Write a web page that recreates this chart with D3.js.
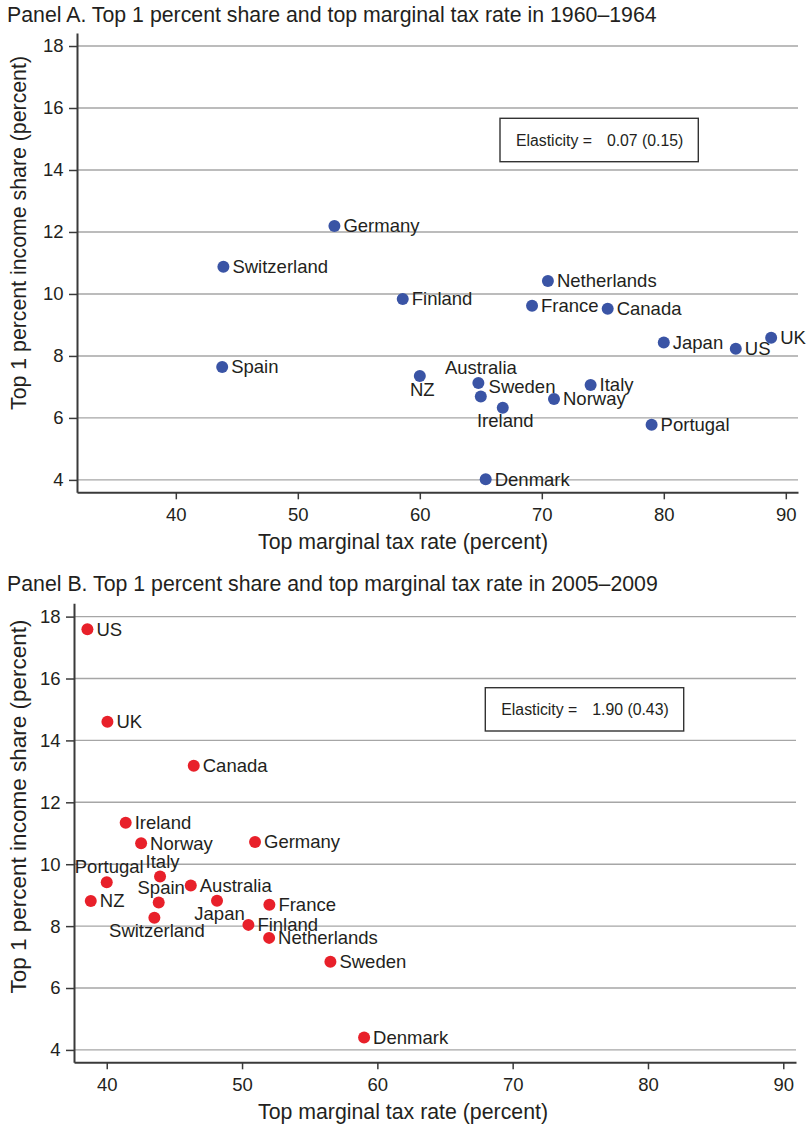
<!DOCTYPE html>
<html><head><meta charset="utf-8">
<script src="https://cdn.jsdelivr.net/npm/d3@7"></script>
<style>
body{margin:0;background:#fff}
svg{display:block}
text{font-family:"Liberation Sans",Arial,Helvetica,sans-serif;fill:#231f20}
</style>
</head><body><svg id="chart" width="807" height="1126"></svg>
<script>
// ---------------- data ----------------
const countriesA = ["Germany","Switzerland","Finland","Netherlands","France","Canada","Spain","Japan","US","UK","NZ","Australia","Sweden","Ireland","Italy","Norway","Portugal","Denmark"];
const taxRateA   = [53.0, 43.9, 58.6, 70.5, 69.2, 75.4, 43.8, 80.0, 85.9, 88.8, 60.0, 64.8, 65.0, 66.8, 74.0, 71.0, 79.0, 65.4];
const topShareA  = [12.19, 10.88, 9.84, 10.42, 9.62, 9.52, 7.64, 8.43, 8.23, 8.59, 7.35, 7.13, 6.69, 6.33, 7.06, 6.61, 5.78, 4.02];

const countriesB = ["US","UK","Canada","Ireland","Norway","Germany","Portugal","Italy","Australia","NZ","Spain","Japan","France","Switzerland","Finland","Netherlands","Sweden","Denmark"];
const taxRateB   = [38.57, 40.05, 46.43, 41.4, 42.54, 50.96, 40.0, 43.94, 46.21, 38.82, 43.84, 48.15, 52.02, 43.52, 50.47, 52.0, 56.53, 59.02];
const topShareB  = [17.59, 14.6, 13.18, 11.34, 10.68, 10.72, 9.42, 9.6, 9.31, 8.81, 8.76, 8.82, 8.69, 8.27, 8.04, 7.62, 6.85, 4.40];

const yTickValues = [4, 6, 8, 10, 12, 14, 16, 18];
const xTickValues = [40, 50, 60, 70, 80, 90];
const panelTitles = ["Panel A. Top 1 percent share and top marginal tax rate in 1960\u20131964",
                     "Panel B. Top 1 percent share and top marginal tax rate in 2005\u20132009"];
const elasticityValues = ["0.07 (0.15)", "1.90 (0.43)"];
const elasticityPrefix = "Elasticity =";
const xAxisTitle = "Top marginal tax rate (percent)";
const yAxisTitle = "Top 1 percent income share (percent)";

// ---------------- layout ----------------
const panels = [
  { names: countriesA, xs: taxRateA, ys: topShareA,
    left: 77, right: 798, top: 33, bottom: 492.3,
    xDom: [31.9, 91.0], yDom: [3.6, 18.42],
    titleY: 21.5, box: {x: 500, y: 118.3, w: 198.3, h: 43.4},
    yTitleC: 233, yTitleSize: 21.3,
    color: "#3a54a5",
    pos: {NZ: "6", Australia: "12", Sweden: "2", Ireland: "6"} },
  { names: countriesB, xs: taxRateB, ys: topShareB,
    left: 74, right: 796, top: 603.3, bottom: 1062.3,
    xDom: [37.58, 90.94], yDom: [3.6, 18.43],
    titleY: 590.7, box: {x: 485.3, y: 687.7, w: 198.4, h: 43.3},
    yTitleC: 806.5, yTitleSize: 22.5,
    color: "#e8202a",
    pos: {Portugal: "12", Italy: "12", Spain: "12", Switzerland: "6", Japan: "6"} }
];

const svg = d3.select("#chart");

panels.forEach((p, i) => {
  const g = svg.append("g");
  const x = d3.scaleLinear().domain(p.xDom).range([p.left, p.right]);
  const y = d3.scaleLinear().domain(p.yDom).range([p.bottom, p.top]);

  // title
  g.append("text").attr("x", 7).attr("y", p.titleY)
    .style("font-size", "21.3px").text(panelTitles[i]);

  // gridlines
  g.selectAll("line.grid").data(yTickValues).enter().append("line")
    .attr("class", "grid")
    .attr("x1", p.left).attr("x2", p.right)
    .attr("y1", d => y(d)).attr("y2", d => y(d))
    .attr("stroke", "#a6a6a6").attr("stroke-width", 1.4);

  // y axis
  const ya = g.append("g").attr("transform", `translate(${p.left},0)`)
    .call(d3.axisLeft(y).tickValues(yTickValues).tickSize(8).tickSizeOuter(0).tickPadding(5.5));
  // x axis
  const xa = g.append("g").attr("transform", `translate(0,${p.bottom})`)
    .call(d3.axisBottom(x).tickValues(xTickValues).tickSize(7).tickSizeOuter(0).tickPadding(8.2));
  [ya, xa].forEach(a => {
    a.select(".domain").attr("stroke", "#3a3a3a").attr("stroke-width", 2);
    a.selectAll(".tick line").attr("stroke", "#3a3a3a").attr("stroke-width", 1.5);
    a.selectAll(".tick text").style("font-size", "18.5px").style("font-family", "'Liberation Sans',Arial,sans-serif").attr("fill", "#231f20");
  });

  // axis titles
  g.append("text").attr("x", 403).attr("y", p.bottom + 57)
    .attr("text-anchor", "middle").style("font-size", "21.3px").text(xAxisTitle);
  g.append("text")
    .attr("transform", `translate(26,${p.yTitleC}) rotate(-90)`)
    .attr("text-anchor", "middle").style("font-size", p.yTitleSize + "px").text(yAxisTitle);

  // elasticity box
  g.append("rect").attr("x", p.box.x).attr("y", p.box.y).attr("width", p.box.w).attr("height", p.box.h)
    .attr("fill", "#fff").attr("stroke", "#333").attr("stroke-width", 1.4);
  const ty = p.box.y + p.box.h / 2 + 5.6;
  g.append("text").attr("x", p.box.x + 16).attr("y", ty).style("font-size", "15.8px").text(elasticityPrefix);
  g.append("text").attr("x", p.box.x + p.box.w - 15).attr("y", ty).attr("text-anchor", "end")
    .style("font-size", "15.8px").text(elasticityValues[i]);

  // points
  const data = p.names.map((n, k) => ({name: n, tx: p.xs[k], sh: p.ys[k]}));
  g.selectAll("circle.pt").data(data).enter().append("circle")
    .attr("class", "pt")
    .attr("cx", d => x(d.tx)).attr("cy", d => y(d.sh)).attr("r", 6)
    .attr("fill", p.color);

  // labels
  g.selectAll("text.lab").data(data).enter().append("text")
    .attr("class", "lab")
    .style("font-size", "18.5px")
    .attr("text-anchor", d => (p.pos[d.name] === "12" || p.pos[d.name] === "6") ? "middle" : "start")
    .attr("x", d => {
      const c = p.pos[d.name];
      if (c === "12" || c === "6") return x(d.tx) + 2.5;
      if (c === "2") return x(d.tx) + 7.8;
      return x(d.tx) + 9;
    })
    .attr("y", d => {
      const c = p.pos[d.name];
      if (c === "12") return y(d.sh) - 9;
      if (c === "6") return y(d.sh) + 19.5;
      if (c === "2") return y(d.sh) - 4;
      return y(d.sh) + 6.4;
    })
    .text(d => d.name);
});
</script>
</body></html>
